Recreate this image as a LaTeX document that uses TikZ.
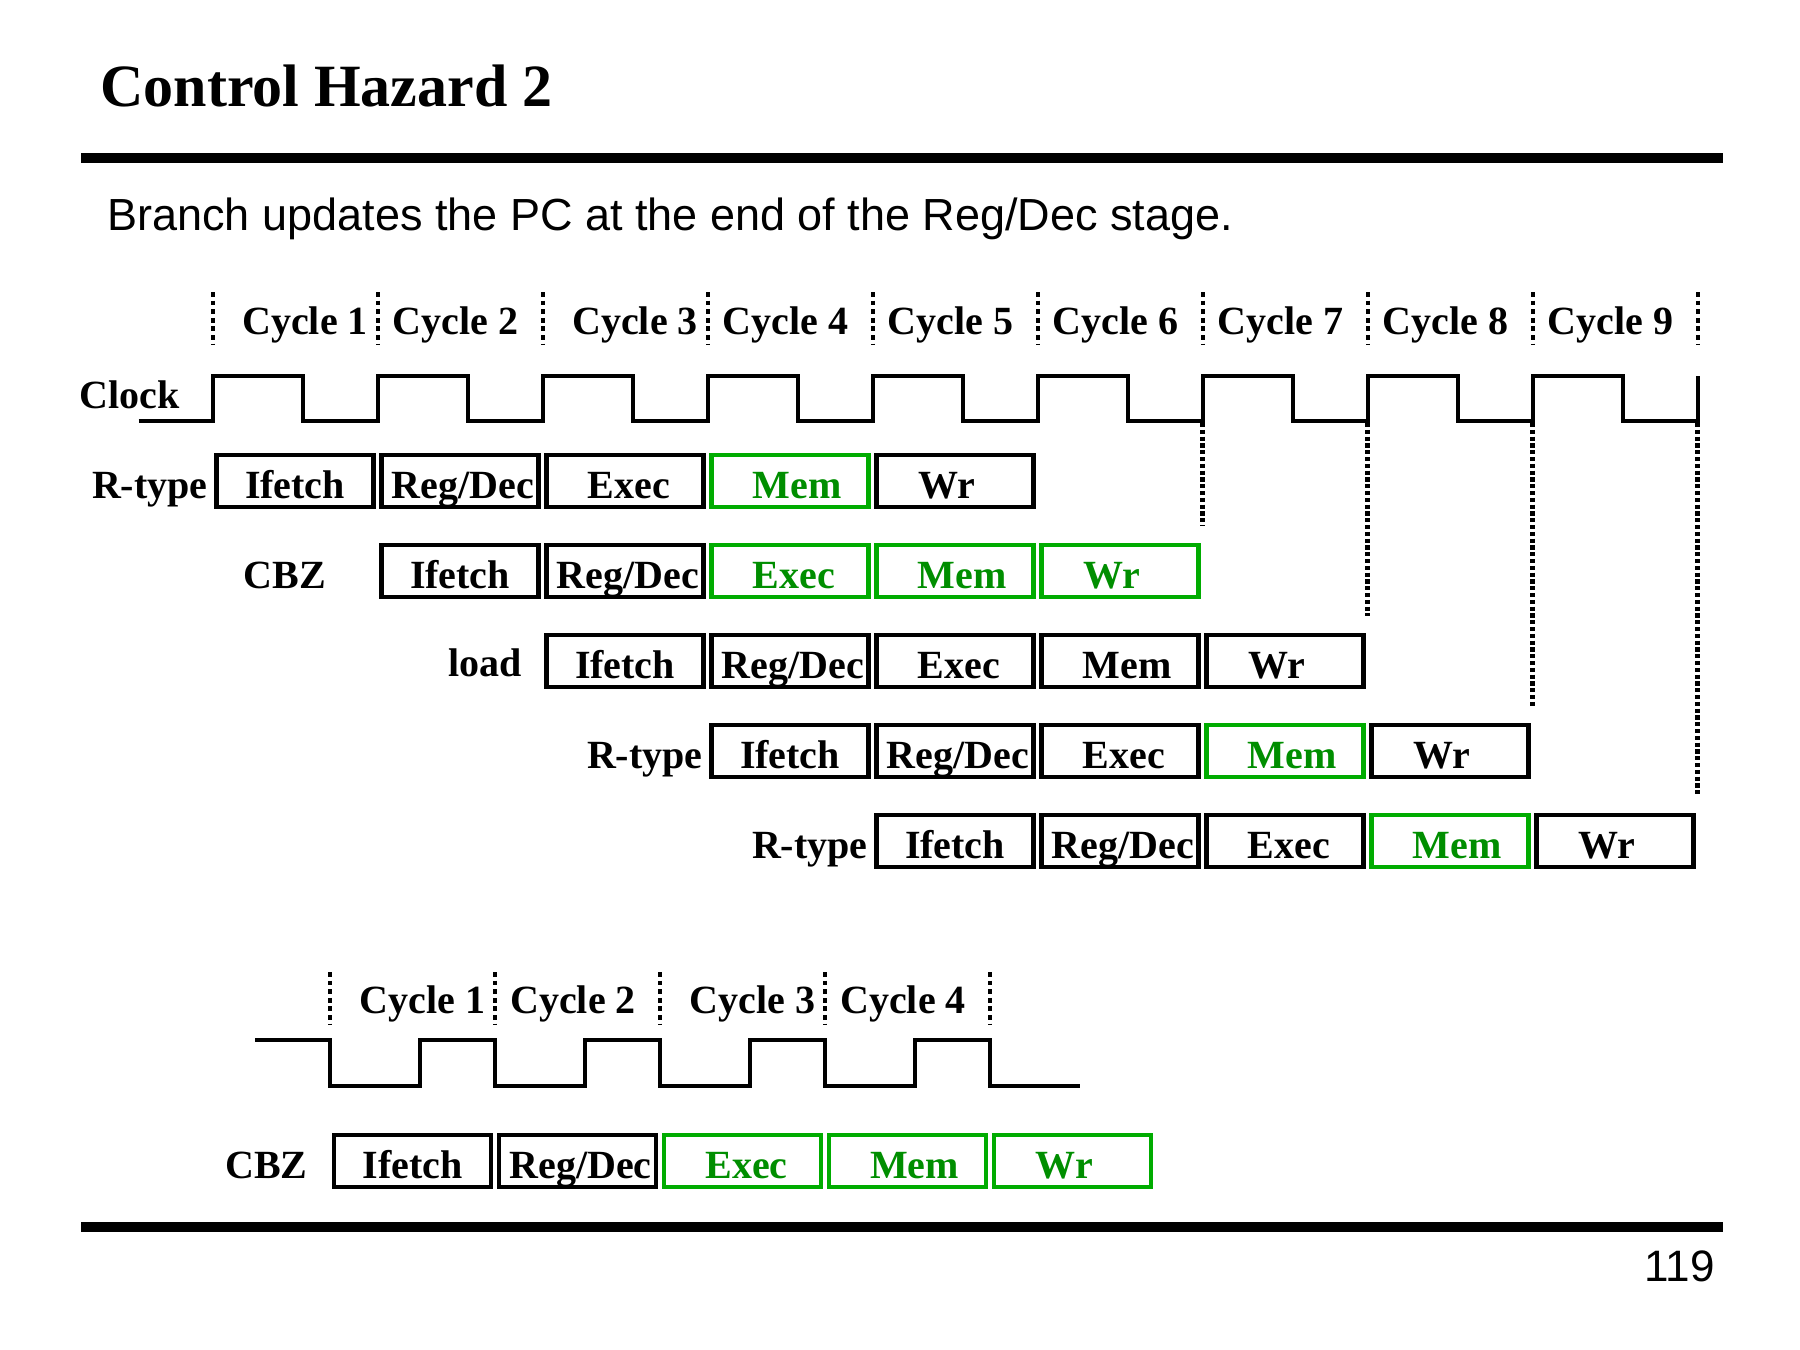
\documentclass[tikz,border=0pt]{standalone}
\usepackage{fontspec}
\setmainfont{Liberation Serif}
\newfontfamily\arialfont{Liberation Sans}
\definecolor{boxgreen}{RGB}{0,172,0}
\definecolor{labelgreen}{RGB}{0,142,0}
\newcommand\stagefont{\fontsize{20pt}{24pt}\selectfont\bfseries}
\newcommand\stIF{Ifetch}
\newcommand\stRD{\kern3pt Reg/Dec}
\newcommand\stEX{\kern4pt Exec}
\newcommand\stME{\kern7pt Mem}
\newcommand\stWR{Wr\kern8pt}
\begin{document}
\begin{tikzpicture}[x=0.5pt,y=-0.5pt,
    stage/.style={draw,line width=2.25pt,minimum width=78.5pt,minimum height=26pt,
      inner sep=0pt,text height=17.3pt,text depth=0pt,font=\stagefont},
    hot/.style={stage,draw=boxgreen,text=labelgreen},
    lab/.style={inner sep=0pt,font=\stagefont},
    clk/.style={line width=2pt},
    tick/.style={line width=2pt,dash pattern=on 2.4pt off 1.9pt},
    drop/.style={line width=2.3pt,dash pattern=on 2.1pt off 1.3pt},
    rule/.style={line width=5pt}]
\useasboundingbox (0,0) rectangle (1800,1350);

% heading
\node[lab,anchor=base west,font=\fontsize{30pt}{36pt}\selectfont\bfseries] (title) at (100,106.7) {Control Hazard 2};
\draw[rule] (81,157.7) -- (1723,157.7);
\node[anchor=base west,inner sep=0pt,font=\arialfont\fontsize{22.5pt}{27pt}\selectfont] (sub) at (107,230)
  {Branch updates the PC at the end of the Reg/Dec stage.};

% cycles and clock
\foreach \i in {0,...,9}
  \draw[tick] ({212.5+165*\i},292) -- ++(0,53);
\foreach \i/\dx in {1/10,2/-4.5,3/10,4/-4.5,5/-4.5,6/-4.5,7/-4.5,8/-4.5,9/-4.5}
  \node[lab,anchor=base] (cyc\i) at ({295+165*(\i-1)+\dx},334) {Cycle \i};
\node[lab,anchor=base west] (clock) at (79,408) {Clock};
\draw[clk] (138.5,421) \foreach \i in {0,...,8} {-- ({212.5+165*\i},421) -- ++(0,-45) -- ++(90,0) -- ++(0,45)}
  -- (1697.5,421) -- (1697.5,376);

% pipeline rows
\foreach \r/\s/\a/\b/\cc/\d/\e in {1/0/stage/stage/stage/hot/stage, 2/1/stage/stage/hot/hot/hot,
    3/2/stage/stage/stage/stage/stage, 4/3/stage/stage/stage/hot/stage, 5/4/stage/stage/stage/hot/stage}
  \foreach \k/\txt/\sty in {1/\stIF/\a, 2/\stRD/\b, 3/\stEX/\cc, 4/\stME/\d, 5/\stWR/\e}
    \node[\sty] (r\r-\k) at ({295+165*(\s+\k-1)},{481+90*(\r-1)}) {\txt};
\node[lab,anchor=base east] (rtype1) at (208,498.3) {R-type};
\node[lab,anchor=base west] (cbz1) at (243.5,588.3) {CBZ};
\node[lab,anchor=base east] (load) at (522,676.3) {load};
\node[lab,anchor=base east] (rtype2) at (703,768.3) {R-type};
\node[lab,anchor=base east] (rtype3) at (868,858.3) {R-type};
\foreach \i/\r in {6/1,7/2,8/3,9/4}
  \draw[drop] ({212.5+165*\i},423) -- ({212.5+165*\i},{526+90*(\r-1)});

% branch alone
\foreach \i in {0,...,4}
  \draw[tick] ({330+165*\i},972) -- ++(0,53);
\foreach \i/\dx in {1/10,2/-4.5,3/10,4/-4.5}
  \node[lab,anchor=base] (low\i) at ({412.5+165*(\i-1)+\dx},1013.5) {Cycle \i};
\draw[clk] (255,1040) \foreach \i in {0,...,3} {-- ({330+165*\i},1040) -- ++(0,45.7) -- ++(90,0) -- ++(0,-45.7)}
  -- (990,1040) -- (990,1085.7) -- (1080,1085.7);
\node[lab,anchor=base east] (cbz2) at (308,1178.3) {CBZ};
\foreach \k/\txt/\sty in {1/\stIF/stage, 2/\stRD/stage, 3/\stEX/hot, 4/\stME/hot, 5/\stWR/hot}
  \node[\sty] (b\k) at ({412.5+165*(\k-1)},1161) {\txt};

% footer
\draw[rule] (81,1226.7) -- (1723,1226.7);
\node[anchor=base east,inner sep=0pt,font=\arialfont\fontsize{22pt}{26pt}\selectfont] (page) at (1715,1281.7) {119};
\end{tikzpicture}
\end{document}
